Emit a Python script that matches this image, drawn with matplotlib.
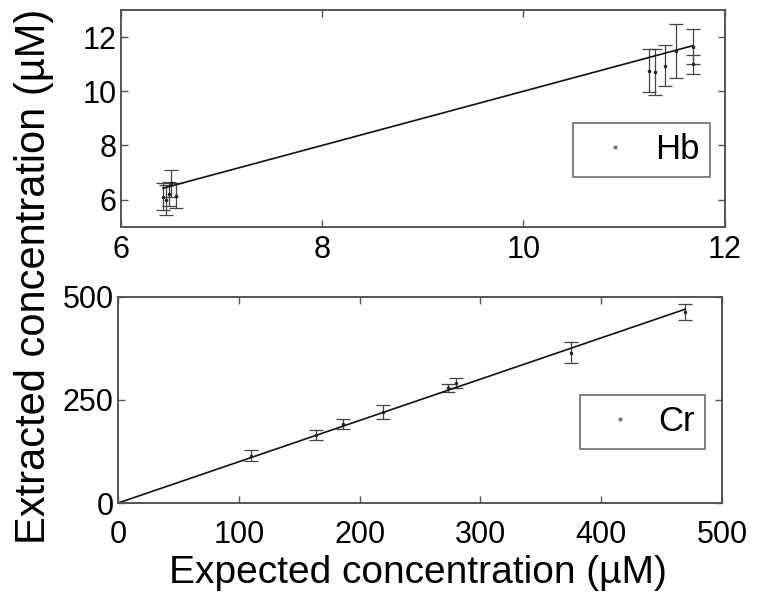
import matplotlib
matplotlib.use("Agg")
import matplotlib.pyplot as plt
from matplotlib.lines import Line2D
import numpy as np

FONT = "Liberation Sans"

# ---- data ----
hb_expected = [6.42, 6.45, 6.48, 6.50, 6.55, 11.25, 11.31, 11.41, 11.51, 11.68, 11.68]
hb_extracted = [6.10, 6.00, 6.20, 6.60, 6.15, 10.76, 10.70, 10.95, 11.50, 11.65, 11.00]
hb_error = [0.50, 0.55, 0.45, 0.50, 0.45, 0.80, 0.85, 0.75, 1.00, 0.65, 0.35]

cr_expected = [0, 110, 164, 186, 219, 273, 280, 375, 469]
cr_extracted = [0, 115, 165, 192, 221, 278, 290, 364, 463]
cr_error = [0, 13, 12, 12, 17, 10, 12, 25, 20]

hb_xticks = [6, 8, 10, 12]
hb_yticks = [6, 8, 10, 12]
cr_xticks = [0, 100, 200, 300, 400, 500]
cr_yticks = [0, 250, 500]

fig = plt.figure(figsize=(7.59, 6.01), dpi=100)
ax1 = fig.add_axes([0.159, 0.6228, 0.796, 0.3606])
ax2 = fig.add_axes([0.1555, 0.1630, 0.7958, 0.3435])

spine_col = "#555555"

def style(ax, xpad):
    for s in ax.spines.values():
        s.set_color(spine_col)
        s.set_linewidth(1.4)
    ax.tick_params(direction="in", top=True, right=True, length=5, width=1,
                   color=spine_col)
    ax.tick_params(axis="x", pad=xpad)
    ax.tick_params(axis="y", pad=3)
    for lab in ax.get_xticklabels() + ax.get_yticklabels():
        lab.set_family(FONT)
        lab.set_fontsize(22)

# Top panel: Hb
ax1.errorbar(hb_expected, hb_extracted, yerr=hb_error, fmt=".", color="#222222",
             ecolor="#444444", elinewidth=0.9, capsize=5, capthick=0.9, markersize=3)
xl = np.array([min(hb_expected), max(hb_expected)])
ax1.plot(xl, xl, color="#111111", lw=1.2)
ax1.set_xlim(6, 12)
ax1.set_ylim(5, 13)
ax1.set_xticks(hb_xticks)
ax1.set_yticks(hb_yticks)
style(ax1, 6)

# Bottom panel: Cr
ax2.errorbar(cr_expected, cr_extracted, yerr=cr_error, fmt=".", color="#222222",
             ecolor="#444444", elinewidth=0.9, capsize=5, capthick=0.9, markersize=3)
xl2 = np.array([min(cr_expected), max(cr_expected)])
ax2.plot(xl2, xl2, color="#111111", lw=1.2)
ax2.set_xlim(0, 500)
ax2.set_ylim(0, 500)
ax2.set_xticks(cr_xticks)
ax2.set_yticks(cr_yticks)
style(ax2, 12)

fig.text(0.551, 1 - 583 / 601, "Expected concentration (\u00b5M)", family=FONT,
         fontsize=28, ha="center", va="baseline")
fig.text(34 / 759, 1 - 276 / 601, "Extracted concentration (\u00b5M)", rotation=90,
         family=FONT, fontsize=30, ha="center", va="center")

def legend(ax, x0, y0, label, hl):
    proxy = Line2D([], [], ls="none", marker=".", markersize=4, color="#777777")
    leg = ax.legend([proxy], [label], loc="upper left",
                    bbox_to_anchor=(x0 / 759, 1 - y0 / 601),
                    bbox_transform=fig.transFigure, borderaxespad=0,
                    prop={"family": FONT, "size": 25}, frameon=True, fancybox=False,
                    handlelength=hl, handletextpad=0.25, borderpad=0.3)
    leg.get_frame().set_edgecolor(spine_col)
    leg.get_frame().set_linewidth(1.3)
    return leg

legend(ax1, 573, 123, "Hb", 1.82)
legend(ax2, 580, 395, "Cr", 1.7)

fig.savefig("out.png", dpi=100)
